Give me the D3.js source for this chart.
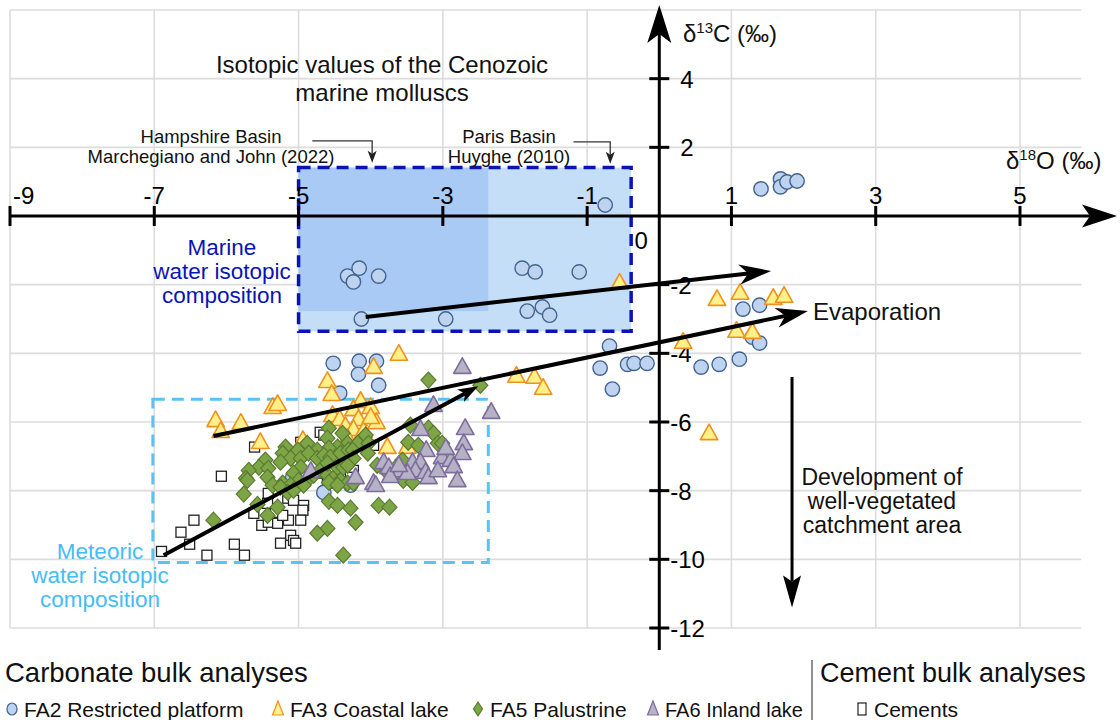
<!DOCTYPE html>
<html><head><meta charset="utf-8">
<script src="https://cdn.jsdelivr.net/npm/d3@7"></script>
<style>body{margin:0;background:#fff} svg{display:block} text{font-family:"Liberation Sans",Arial,Helvetica,sans-serif}</style>
</head><body><svg id="c" width="1120" height="720"></svg>
<script>
// ---- tick labels / grid ----
const xTicks = [-9,-7,-5,-3,-1,1,3,5];
const yTicks = [4,2,-2,-4,-6,-8,-10,-12];
const xGrid = [-9,-7,-5,-3,-1,1,3,5];
const yGrid = [6,4,2,-2,-4,-6,-8,-10,-12];

// ---- data: [d18O, d13C] ----
const fa2 = [[-0.75,0.32],[1.41,0.79],[1.68,1.08],[1.68,0.85],[1.77,0.99],[1.91,1.02],
[-4.32,-1.75],[-4.16,-1.52],[-4.24,-1.92],[-3.89,-1.75],[-4.13,-3.00],[-2.96,-3.00],
[-1.90,-1.52],[-1.72,-1.63],[-1.11,-1.63],[-1.83,-2.77],[-1.62,-2.65],[-1.52,-2.89],
[-0.69,-3.79],[-0.82,-4.43],[-0.44,-4.32],[-0.35,-4.29],[-0.17,-4.29],[-0.65,-5.04],
[-4.52,-4.29],[-4.16,-4.23],[-3.92,-4.23],[-4.17,-4.61],[-3.89,-4.93],[-4.43,-5.16],
[1.16,-2.71],[1.39,-2.60],[1.29,-3.53],[1.39,-3.70],[0.58,-4.40],[0.83,-4.32],[1.11,-4.17],
[-5.08,-7.61],[-4.65,-8.05],[-4.28,-7.84]];

const fa3 = [[-0.55,-1.95],[0.80,-2.42],[1.12,-2.24],[1.58,-2.39],[1.73,-2.33],[1.07,-3.35],[1.29,-3.38],
[0.33,-3.67],[0.69,-6.33],[-3.61,-4.02],[-3.96,-4.40],[-4.60,-4.81],[-4.54,-5.19],[-1.98,-4.66],
[-1.73,-4.69],[-1.61,-5.01],[-5.36,-5.57],[-5.29,-5.48],[-6.15,-5.95],[-6.08,-6.27],[-5.80,-6.03],
[-5.53,-6.59],[-4.14,-5.39],[-4.24,-5.63],[-4.00,-5.57],[-4.53,-5.80],[-4.43,-5.92],[-4.17,-5.92],
[-3.92,-6.01],[-4.35,-6.12],[-4.24,-6.21],[-4.10,-6.27],[-4.00,-5.86],[-3.77,-6.73],[-3.49,-6.73],
[-4.94,-6.53],[-4.32,-6.47]];

const fa5 = [[-3.20,-4.78],[-2.48,-4.93],[-3.45,-6.09],[-3.20,-6.18],[-3.13,-6.33],[-3.07,-6.62],[-3.01,-6.62],
[-3.48,-6.59],[-3.34,-6.68],[-4.58,-6.18],[-4.39,-6.33],[-4.60,-6.47],[-4.32,-6.62],[-4.46,-6.73],
[-4.58,-6.76],[-4.74,-6.82],[-4.88,-6.62],[-5.01,-6.82],[-5.18,-6.73],[-5.22,-6.91],[-5.11,-7.06],
[-5.25,-7.17],[-5.46,-7.11],[-5.55,-7.32],[-5.42,-7.35],[-5.69,-7.41],[-5.43,-7.61],[-5.73,-7.64],
[-4.97,-7.06],[-4.86,-6.91],[-4.74,-7.06],[-4.65,-6.97],[-4.56,-7.03],[-4.42,-6.91],[-4.31,-6.82],
[-4.97,-7.32],[-5.07,-7.49],[-5.00,-7.70],[-4.88,-7.70],[-4.79,-7.55],[-4.70,-7.41],[-4.60,-7.55],
[-4.52,-7.64],[-4.42,-7.70],[-4.32,-7.78],[-5.22,-7.78],[-5.11,-7.84],[-4.60,-7.20],[-4.46,-7.32],
[-4.38,-7.32],[-5.36,-7.84],[-4.07,-6.38],[-4.18,-6.62],[-4.03,-6.62],[-4.25,-6.82],[-4.04,-6.91],
[-4.24,-7.06],[-4.32,-7.26],[-3.91,-7.26],[-3.56,-7.11],[-3.55,-7.70],[-3.42,-7.76],[-3.77,-7.46],
[-3.66,-7.35],[-4.24,-7.78],[-5.76,-8.10],[-5.57,-8.40],[-5.43,-8.72],[-5.29,-8.48],[-5.25,-7.90],
[-5.15,-8.05],[-6.18,-8.86],[-5.71,-7.70],[-4.58,-8.31],[-4.46,-8.43],[-4.28,-8.51],[-4.21,-8.92],
[-3.89,-8.43],[-3.74,-8.48],[-4.60,-9.10],[-4.74,-9.24],[-4.38,-9.88],[-4.93,-7.84],[-5.07,-7.99],
[-4.58,-7.76],[-4.46,-7.84]];

const fa6 = [[-2.73,-4.40],[-3.13,-5.51],[-2.33,-5.71],[-2.69,-6.18],[-3.31,-6.21],[-2.71,-6.62],[-3.23,-6.82],
[-2.73,-6.91],[-3.01,-7.03],[-2.89,-7.11],[-2.85,-7.29],[-3.82,-7.17],[-3.75,-7.32],[-3.42,-7.17],
[-3.31,-7.17],[-3.59,-7.41],[-3.38,-7.41],[-3.73,-7.58],[-3.49,-7.49],[-3.24,-7.46],[-3.20,-7.61],
[-2.80,-7.70],[-3.96,-7.78],[-4.21,-7.61],[-4.83,-7.43],[-3.93,-7.84],[-3.61,-7.26],[-3.07,-7.41],
[-2.96,-6.76]];

const cements = [[-5.61,-6.73],[-6.07,-7.58],[-6.45,-8.86],[-6.63,-9.21],[-6.90,-9.77],[-6.51,-9.56],
[-6.27,-9.88],[-5.89,-9.56],[-5.75,-9.88],[-5.62,-8.66],[-5.51,-9.01],[-5.42,-8.92],[-5.29,-8.95],
[-5.14,-8.86],[-5.11,-9.30],[-5.25,-9.53],[-5.07,-9.45],[-5.04,-9.53],[-5.15,-8.22],[-5.07,-8.28],
[-4.93,-8.43],[-4.94,-8.57],[-4.97,-6.59],[-4.70,-6.30],[-4.65,-6.38],[-4.21,-6.47],[-3.96,-6.68],
[-5.14,-7.06],[-4.38,-7.20],[-4.24,-7.41],[-4.28,-7.61],[-4.52,-7.49],[-4.65,-7.49],[-4.60,-7.78],
[-5.42,-8.08],[-5.43,-8.37],[-5.32,-8.63],[-5.22,-8.72],[-4.97,-8.86]];

// boxes [x0,x1,y0,y1]
const marineBox = [-5.0,-0.39,1.41,-3.36];
const hampshireBox = [-5.0,-2.37,1.41,-2.77];
const meteoricBox = [-7.02,-2.37,-5.34,-10.09];

// trend arrows [x1,y1,x2,y2]
const marineArrow = [-4.07,-2.94,1.55,-1.60];
const evapArrow = [-6.18,-6.41,2.06,-2.77];
const meteoricArrow = [-6.87,-9.88,-2.51,-4.96];
const vegArrow = [1.84,-4.69,1.84,-11.40];

const legendItems = [
  {label:"FA2 Restricted platform", shape:"circle", fill:"#bdd3ef", stroke:"#43628f", x:12},
  {label:"FA3 Coastal lake", shape:"triangle", fill:"#fff08a", stroke:"#f0901e", x:278},
  {label:"FA5 Palustrine", shape:"diamond", fill:"#7da546", stroke:"#5a7a32", x:478},
  {label:"FA6 Inland lake", shape:"triangle", fill:"#b5b2c5", stroke:"#7e6c9e", x:653},
  {label:"Cements", shape:"square", fill:"#ffffff", stroke:"#222222", x:862}
];

const svg = d3.select("#c");
const x = d3.scaleLinear().domain([-9,5]).range([10,1020]);
const y = d3.scaleLinear().domain([6,-12]).range([10,628]);

// grid
const grid = svg.append("g").attr("stroke","#dcdcdc").attr("stroke-width",1.6);
grid.selectAll(".gv").data(xGrid).join("line").attr("x1",d=>x(d)).attr("x2",d=>x(d)).attr("y1",y(6)).attr("y2",y(-12));
grid.selectAll(".gh").data(yGrid).join("line").attr("x1",x(-9)).attr("x2",x(5.85)).attr("y1",d=>y(d)).attr("y2",d=>y(d));

// boxes
function rect(b){return {x:x(b[0]), y:y(b[2]), w:x(b[1])-x(b[0]), h:y(b[3])-y(b[2])};}
const mb = rect(marineBox), hb = rect(hampshireBox), eb = rect(meteoricBox);
svg.append("rect").attr("x",mb.x).attr("y",mb.y).attr("width",mb.w).attr("height",mb.h).attr("fill","#c5def8");
svg.append("rect").attr("x",hb.x).attr("y",hb.y).attr("width",hb.w).attr("height",hb.h).attr("fill","#a8caf4");
svg.append("rect").attr("x",mb.x).attr("y",mb.y).attr("width",mb.w).attr("height",mb.h)
  .attr("fill","none").attr("stroke","#0a14b4").attr("stroke-width",3.5).attr("stroke-dasharray","12 7");
svg.append("rect").attr("x",eb.x).attr("y",eb.y).attr("width",eb.w).attr("height",eb.h)
  .attr("fill","none").attr("stroke","#58c4f5").attr("stroke-width",3).attr("stroke-dasharray","12 7");

// arrow helper
function arrow(g,x1,y1,x2,y2,L,Wd,N,sw,col){
  const dx=x2-x1, dy=y2-y1, len=Math.hypot(dx,dy), ux=dx/len, uy=dy/len, nx=-uy, ny=ux;
  const bx=x2-L*ux, by=y2-L*uy, kx=x2-(L-N)*ux, ky=y2-(L-N)*uy;
  g.append("line").attr("x1",x1).attr("y1",y1).attr("x2",kx).attr("y2",ky).attr("stroke",col).attr("stroke-width",sw);
  g.append("path").attr("d",`M${x2},${y2}L${bx+Wd*nx},${by+Wd*ny}L${kx},${ky}L${bx-Wd*nx},${by-Wd*ny}Z`).attr("fill",col);
}

// axes
const ax = svg.append("g");
arrow(ax, x(-9), y(0), 1117, y(0), 35, 11.5, 8, 3, "#000");
arrow(ax, x(0), 650, x(0), 5, 38, 12, 9, 3, "#000");
ax.selectAll(".tx").data(xTicks).join("line").attr("x1",d=>x(d)).attr("x2",d=>x(d)).attr("y1",y(0)-10).attr("y2",y(0)+10).attr("stroke","#000").attr("stroke-width",3);
ax.selectAll(".ty").data(yTicks).join("line").attr("x1",x(0)-10).attr("x2",x(0)+10).attr("y1",d=>y(d)).attr("y2",d=>y(d)).attr("stroke","#000").attr("stroke-width",3);
ax.selectAll(".lx").data(xTicks).join("text").attr("x",d=>d===-9?x(d)+3:x(d)).attr("y",y(0)-12)
  .attr("text-anchor",d=>d===-9?"start":"middle").attr("font-size",24).text(d=>d<0?"-"+Math.abs(d):d);
ax.selectAll(".ly").data(yTicks).join("text").attr("x",d=>d<0?x(0)+11:x(0)+21).attr("y",d=>y(d)+9)
  .attr("font-size",24).text(d=>d<0?"-"+Math.abs(d):d);
ax.append("text").attr("x",x(0)-18).attr("y",y(0)+33).attr("text-anchor","middle").attr("font-size",24).text("0");

// points
const pts = svg.append("g");
pts.selectAll(".cm").data(cements).join("rect").attr("x",d=>x(d[0])-5).attr("y",d=>y(d[1])-5).attr("width",10).attr("height",10)
  .attr("fill","#fff").attr("stroke","#222").attr("stroke-width",1.3);
pts.selectAll(".f2").data(fa2).join("circle").attr("cx",d=>x(d[0])).attr("cy",d=>y(d[1])).attr("r",7.2)
  .attr("fill","#bdd3ef").attr("stroke","#43628f").attr("stroke-width",1.4);
const tri = (s)=>`M0,${-s*0.62}L${s*0.58},${s*0.42}L${-s*0.58},${s*0.42}Z`;
pts.selectAll(".f3").data(fa3).join("path").attr("transform",d=>`translate(${x(d[0])},${y(d[1])})`).attr("d",tri(15))
  .attr("fill","#fff08a").attr("stroke","#f0901e").attr("stroke-width",1.6).attr("stroke-linejoin","round");
pts.selectAll(".f5").data(fa5).join("path").attr("transform",d=>`translate(${x(d[0])},${y(d[1])})`).attr("d","M0,-8L7.5,0L0,8L-7.5,0Z")
  .attr("fill","#7da546").attr("stroke","#5a7a32").attr("stroke-width",1.2);
pts.selectAll(".f6").data(fa6).join("path").attr("transform",d=>`translate(${x(d[0])},${y(d[1])})`).attr("d",tri(15))
  .attr("fill","#b5b2c5").attr("stroke","#7e6c9e").attr("stroke-width",1.6).attr("stroke-linejoin","round");

// trend arrows
const ar = svg.append("g");
[[marineArrow,32,10,9,4],[evapArrow,32,10,9,4],[meteoricArrow,20,7,5,4],[vegArrow,32,9,6,3]].forEach(([a,L,Wd,N,sw])=>{
  arrow(ar, x(a[0]),y(a[1]),x(a[2]),y(a[3]),L,Wd,N,sw,"#000");
});

// thin annotation arrows
function bent(x1,yy1,x2,yy2){
  const g = svg.append("g");
  g.append("path").attr("d",`M${x(x1)},${y(yy1)}H${x(x2)}V${y(yy2)-9}`).attr("fill","none").attr("stroke","#333").attr("stroke-width",1.3);
  g.append("path").attr("d",`M${x(x2)},${y(yy2)}L${x(x2)-4.5},${y(yy2)-12}L${x(x2)},${y(yy2)-9}L${x(x2)+4.5},${y(yy2)-12}Z`).attr("fill","#222");
}
bent(-4.81,2.19,-3.98,1.55);
bent(-1.19,2.16,-0.68,1.52);

// texts
function lines(xc,ys,arr,size,col,anchor){
  arr.forEach((t,i)=>svg.append("text").attr("x",xc).attr("y",ys[i]).attr("text-anchor",anchor||"middle")
    .attr("font-size",size).attr("fill",col||"#111").text(t));
}
lines(382,[73,101],["Isotopic values of the Cenozoic","marine molluscs"],24,"#111");
lines(211,[143,163],["Hampshire Basin","Marchegiano and John (2022)"],18.5,"#111");
lines(509,[143,163],["Paris Basin","Huyghe (2010)"],18.5,"#111");
lines(222,[255,279,303],["Marine","water isotopic","composition"],22.5,"#0a14b4");
lines(100,[559,583,607],["Meteoric","water isotopic","composition"],22.5,"#45bdf4");
lines(813,[320],["Evaporation"],24,"#111","start");
lines(882,[485,509,533],["Development of","well-vegetated","catchment area"],23,"#111");

// axis titles
const t1 = svg.append("text").attr("x",683).attr("y",42).attr("font-size",24).attr("fill","#111");
t1.append("tspan").text("δ");
t1.append("tspan").attr("font-size",15).attr("dy",-9).text("13");
t1.append("tspan").attr("dy",9).text("C (‰)");
const t2 = svg.append("text").attr("x",1006).attr("y",169).attr("font-size",24).attr("fill","#111");
t2.append("tspan").text("δ");
t2.append("tspan").attr("font-size",15).attr("dy",-9).text("18");
t2.append("tspan").attr("dy",9).text("O (‰)");

// legend
svg.append("text").attr("x",5).attr("y",682).attr("font-size",27.5).attr("fill","#111").text("Carbonate bulk analyses");
svg.append("text").attr("x",820).attr("y",682).attr("font-size",27).attr("fill","#111").text("Cement bulk analyses");
svg.append("line").attr("x1",812).attr("x2",812).attr("y1",660).attr("y2",720).attr("stroke","#555").attr("stroke-width",1.3);
const lg = svg.append("g");
legendItems.forEach(it=>{
  const cy = 709;
  let m;
  if(it.shape==="circle") m = lg.append("ellipse").attr("cx",it.x).attr("cy",cy).attr("rx",5).attr("ry",6);
  else if(it.shape==="triangle") m = lg.append("path").attr("d",`M${it.x},${cy-8}L${it.x+5.5},${cy+6}L${it.x-5.5},${cy+6}Z`);
  else if(it.shape==="diamond") m = lg.append("path").attr("d",`M${it.x},${cy-7}L${it.x+4.5},${cy}L${it.x},${cy+7}L${it.x-4.5},${cy}Z`);
  else m = lg.append("rect").attr("x",it.x-4).attr("y",cy-6).attr("width",8).attr("height",12);
  m.attr("fill",it.fill).attr("stroke",it.stroke).attr("stroke-width",1.2);
  lg.append("text").attr("x",it.x+12).attr("y",717).attr("font-size",it.label.startsWith("FA6")?20:21).attr("fill","#111").text(it.label);
});
</script></body></html>
